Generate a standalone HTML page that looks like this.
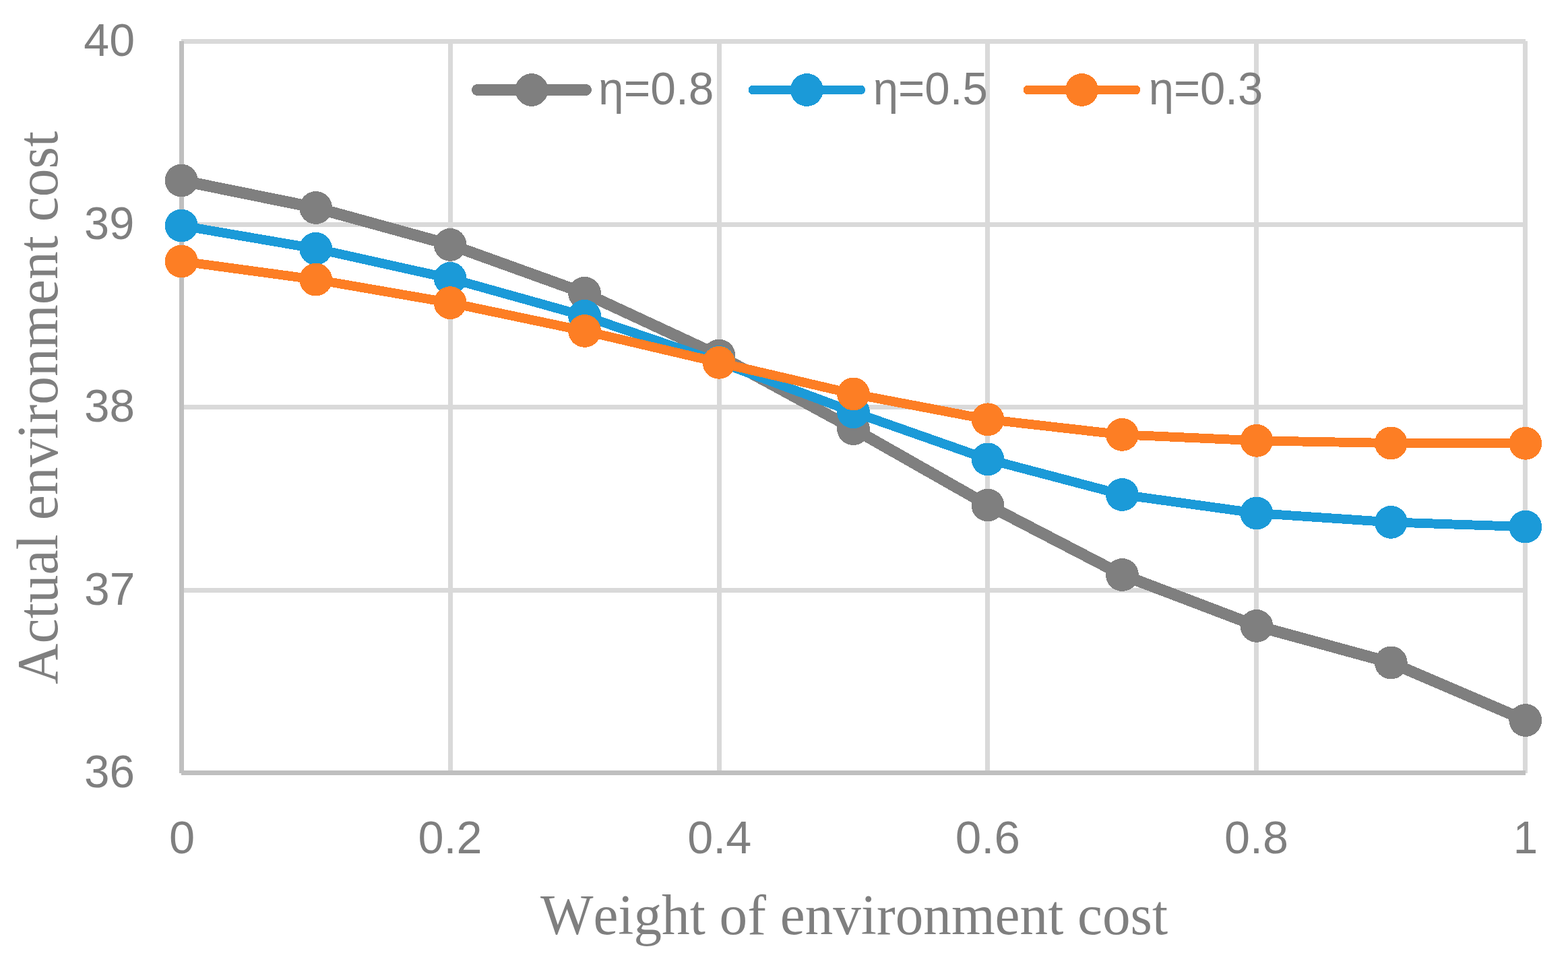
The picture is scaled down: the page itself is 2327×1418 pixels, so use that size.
<!DOCTYPE html>
<html lang="en"><head><meta charset="utf-8"><title>Actual environment cost vs weight of environment cost</title>
<style>html,body{margin:0;padding:0;background:#fff}body{width:2327px;height:1418px;overflow:hidden}svg{display:block}text{fill:#7f7f7f;font-kerning:none;font-variant-ligatures:none}.tick,.leg{font-family:'Liberation Sans', sans-serif;font-size:68.8px}.title{font-family:'Liberation Serif', serif}</style>
</head><body>
<svg width="2327" height="1418" viewBox="0 0 2327 1418" shape-rendering="crispEdges">
<rect width="2327" height="1418" fill="#ffffff"/>
<g stroke="#d9d9d9" stroke-width="7" fill="none">
<line x1="269" y1="61.5" x2="2264" y2="61.5"/>
<line x1="269" y1="333.5" x2="2264" y2="333.5"/>
<line x1="269" y1="604.5" x2="2264" y2="604.5"/>
<line x1="269" y1="876.5" x2="2264" y2="876.5"/>
<line x1="668.5" y1="61" x2="668.5" y2="1148"/>
<line x1="1067.5" y1="61" x2="1067.5" y2="1148"/>
<line x1="1465.5" y1="61" x2="1465.5" y2="1148"/>
<line x1="1864.5" y1="61" x2="1864.5" y2="1148"/>
<line x1="2263.5" y1="61" x2="2263.5" y2="1148"/>
</g>
<g stroke="#bfbfbf" stroke-width="7" fill="none">
<line x1="269" y1="1147.5" x2="2264" y2="1147.5"/>
<line x1="269.5" y1="61" x2="269.5" y2="1148"/>
</g>
<g fill="#7f7f7f" stroke="none">
<polyline points="269.2,268 468.66,308.5 668.12,363.4 867.58,435.3 1067.04,528 1266.5,636.6 1465.96,750 1665.42,853.5 1864.88,929.4 2064.34,984 2263.8,1069.5" fill="none" stroke="#7f7f7f" stroke-width="17.0" stroke-linecap="round" stroke-linejoin="round"/>
<circle cx="269.2" cy="268" r="24.4"/>
<circle cx="468.66" cy="308.5" r="24.4"/>
<circle cx="668.12" cy="363.4" r="24.4"/>
<circle cx="867.58" cy="435.3" r="24.4"/>
<circle cx="1067.04" cy="528" r="24.4"/>
<circle cx="1266.5" cy="636.6" r="24.4"/>
<circle cx="1465.96" cy="750" r="24.4"/>
<circle cx="1665.42" cy="853.5" r="24.4"/>
<circle cx="1864.88" cy="929.4" r="24.4"/>
<circle cx="2064.34" cy="984" r="24.4"/>
<circle cx="2263.8" cy="1069.5" r="24.4"/>
</g>
<g fill="#1b9ad8" stroke="none">
<polyline points="269.2,335 468.66,369.2 668.12,413.4 867.58,469.2 1067.04,537.4 1266.5,611.8 1465.96,681.9 1665.42,734.5 1864.88,762 2064.34,775.4 2263.8,782.1" fill="none" stroke="#1b9ad8" stroke-width="13.9" stroke-linecap="round" stroke-linejoin="round"/>
<circle cx="269.2" cy="335" r="24.4"/>
<circle cx="468.66" cy="369.2" r="24.4"/>
<circle cx="668.12" cy="413.4" r="24.4"/>
<circle cx="867.58" cy="469.2" r="24.4"/>
<circle cx="1067.04" cy="537.4" r="24.4"/>
<circle cx="1266.5" cy="611.8" r="24.4"/>
<circle cx="1465.96" cy="681.9" r="24.4"/>
<circle cx="1665.42" cy="734.5" r="24.4"/>
<circle cx="1864.88" cy="762" r="24.4"/>
<circle cx="2064.34" cy="775.4" r="24.4"/>
<circle cx="2263.8" cy="782.1" r="24.4"/>
</g>
<g fill="#fd7e24" stroke="none">
<polyline points="269.2,388 468.66,415.1 668.12,449.6 867.58,491.4 1067.04,538.3 1266.5,584.9 1465.96,622.8 1665.42,645.4 1864.88,654.3 2064.34,658 2263.8,658.3" fill="none" stroke="#fd7e24" stroke-width="13.9" stroke-linecap="round" stroke-linejoin="round"/>
<circle cx="269.2" cy="388" r="24.4"/>
<circle cx="468.66" cy="415.1" r="24.4"/>
<circle cx="668.12" cy="449.6" r="24.4"/>
<circle cx="867.58" cy="491.4" r="24.4"/>
<circle cx="1067.04" cy="538.3" r="24.4"/>
<circle cx="1266.5" cy="584.9" r="24.4"/>
<circle cx="1465.96" cy="622.8" r="24.4"/>
<circle cx="1665.42" cy="645.4" r="24.4"/>
<circle cx="1864.88" cy="654.3" r="24.4"/>
<circle cx="2064.34" cy="658" r="24.4"/>
<circle cx="2263.8" cy="658.3" r="24.4"/>
</g>
<line x1="708.5" y1="133.5" x2="869.5" y2="133.5" stroke="#7f7f7f" stroke-width="17.0" stroke-linecap="round"/>
<circle cx="789" cy="133.5" r="24.4" fill="#7f7f7f"/>
<line x1="1117.6" y1="133.5" x2="1277.2" y2="133.5" stroke="#1b9ad8" stroke-width="13.9" stroke-linecap="round"/>
<circle cx="1197.4" cy="133.5" r="24.4" fill="#1b9ad8"/>
<line x1="1525.7" y1="133.5" x2="1685.3" y2="133.5" stroke="#fd7e24" stroke-width="13.9" stroke-linecap="round"/>
<circle cx="1605.5" cy="133.5" r="24.4" fill="#fd7e24"/>
<text class="tick" transform="translate(124.32 83.20) scale(0.9896 1)">40</text>
<text class="tick" transform="translate(125.03 355.20) scale(0.9702 1)">39</text>
<text class="tick" transform="translate(125.00 626.30) scale(0.9809 1)">38</text>
<text class="tick" transform="translate(124.99 898.20) scale(0.9851 1)">37</text>
<text class="tick" transform="translate(125.00 1169.20) scale(0.9809 1)">36</text>
<text class="tick" transform="translate(251.05 1267.30) scale(0.9985 1)">0</text>
<text class="tick" transform="translate(620.47 1267.30) scale(0.9944 1)">0.2</text>
<text class="tick" transform="translate(1020.17 1267.30) scale(0.9939 1)">0.4</text>
<text class="tick" transform="translate(1417.83 1267.30) scale(1.0061 1)">0.6</text>
<text class="tick" transform="translate(1817.07 1267.30) scale(0.9944 1)">0.8</text>
<text class="tick" transform="translate(2245.81 1267.30) scale(0.9513 1)">1</text>
<text class="tick" transform="translate(888.11 155.00) scale(0.9848 1)">η=0.8</text>
<text class="tick" transform="translate(1295.74 155.00) scale(0.9767 1)">η=0.5</text>
<text class="tick" transform="translate(1704.65 155.00) scale(0.9746 1)">η=0.3</text>
<text class="title" font-size="85.3" transform="translate(801.90 1386.75) scale(0.9757 1)">Weight of environment cost</text>
<text class="title" font-size="85.8" transform="translate(84.90 1015.93) rotate(-90) scale(0.9738 1)">Actual environment cost</text>
</svg></body></html>
